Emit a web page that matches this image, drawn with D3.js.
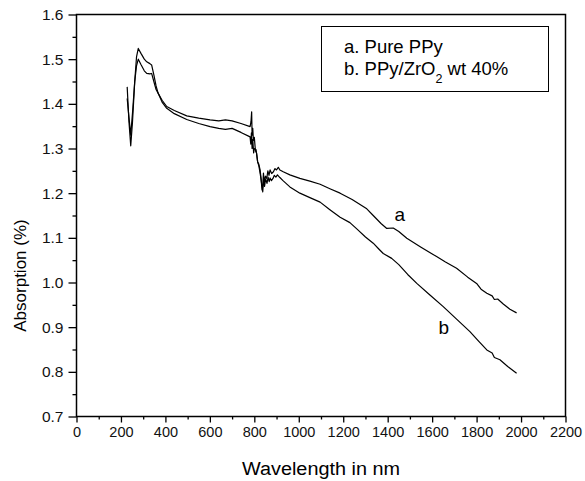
<!DOCTYPE html>
<html>
<head>
<meta charset="utf-8">
<script src="https://cdn.jsdelivr.net/npm/d3@7"></script>
<style>
  html, body { margin: 0; padding: 0; background: #fff; }
  svg { display: block; font-family: "Liberation Sans", Arial, sans-serif; }
</style>
</head>
<body>
<svg id="chart" width="585" height="481"></svg>
<script>
// ---- data ----
const xTicks = [0, 200, 400, 600, 800, 1000, 1200, 1400, 1600, 1800, 2000, 2200];
const yTicks = [0.7, 0.8, 0.9, 1.0, 1.1, 1.2, 1.3, 1.4, 1.5, 1.6];
const legendLabels = ["a. Pure PPy", "b. PPy/ZrO", "2", " wt 40%"];
const curveLabels = ["a", "b"];

// Curve a: Pure PPy  [wavelength nm, absorption]
const wavelengthA = [228,236,244,252,262,270,278,290,305,316,330,338,348,358,367,385,406,440,496,550,601,640,670,700,740,781,785,788,790,793,796,800,805,810,815,820,826,830,835,838,841,845,850,856,861,866,871,878,886,893,900,908,915,930,960,1005,1050,1096,1140,1186,1240,1306,1335,1370,1396,1425,1450,1486,1550,1620,1660,1710,1760,1800,1820,1846,1870,1880,1895,1920,1950,1980];
const absorptionA = [1.438,1.36,1.306,1.36,1.45,1.505,1.524,1.513,1.500,1.494,1.490,1.487,1.465,1.440,1.424,1.408,1.394,1.385,1.373,1.368,1.364,1.362,1.364,1.362,1.356,1.349,1.36,1.382,1.33,1.345,1.318,1.325,1.295,1.29,1.27,1.262,1.245,1.232,1.207,1.215,1.245,1.225,1.238,1.233,1.25,1.24,1.252,1.244,1.248,1.255,1.252,1.258,1.252,1.248,1.241,1.233,1.227,1.220,1.210,1.200,1.186,1.165,1.150,1.132,1.121,1.122,1.114,1.099,1.079,1.058,1.046,1.032,1.012,0.998,0.985,0.976,0.970,0.962,0.963,0.952,0.940,0.932];

// Curve b: PPy/ZrO2 wt 40%
const wavelengthB = [228,236,244,252,262,270,278,290,305,316,330,338,348,358,367,385,406,440,496,550,601,640,670,700,740,781,784,787,790,793,797,800,808,815,820,826,832,838,842,846,851,857,862,867,871,877,884,890,897,904,915,929,960,1005,1050,1096,1140,1186,1230,1261,1300,1335,1360,1380,1418,1450,1490,1531,1590,1650,1710,1770,1810,1846,1870,1880,1905,1940,1980];
const absorptionB = [1.412,1.37,1.330,1.38,1.45,1.485,1.500,1.488,1.474,1.468,1.467,1.468,1.450,1.432,1.424,1.404,1.390,1.378,1.365,1.356,1.349,1.345,1.343,1.345,1.336,1.326,1.31,1.335,1.30,1.32,1.29,1.30,1.297,1.27,1.265,1.252,1.225,1.203,1.235,1.215,1.232,1.222,1.236,1.226,1.234,1.228,1.233,1.24,1.236,1.241,1.235,1.228,1.214,1.200,1.190,1.180,1.163,1.146,1.134,1.120,1.102,1.088,1.075,1.065,1.054,1.040,1.018,0.998,0.972,0.946,0.918,0.890,0.868,0.849,0.842,0.832,0.827,0.812,0.797];

// ---- layout ----
const L = 76.5, R = 565.5, T = 14.5, B = 416.5;
const svg = d3.select("#chart");
const x = d3.scaleLinear().domain([0, 2200]).range([L, R]);
const y = d3.scaleLinear().domain([0.7, 1.6]).range([B, T]);

// minor ticks
const xMinor = d3.range(100, 2200, 200);
const yMinor = d3.range(0, 9).map(i => +(0.75 + i * 0.1).toFixed(2));

// bottom axis
const xAxis = d3.axisBottom(x).tickValues(xTicks).tickFormat(d3.format("d")).tickSize(6).tickPadding(4);
const gx = svg.append("g").attr("transform", `translate(0,${B})`).call(xAxis);
gx.select(".domain").remove();
gx.selectAll("line").attr("stroke", "#000").attr("stroke-width", 1.3);
gx.selectAll("text").attr("font-size", 14.5).attr("fill", "#111").attr("font-family", "Liberation Sans, Arial, sans-serif");
const gxm = svg.append("g").attr("transform", `translate(0,${B})`)
  .call(d3.axisBottom(x).tickValues(xMinor).tickSize(3).tickFormat(""));
gxm.select(".domain").remove();
gxm.selectAll("line").attr("stroke", "#000").attr("stroke-width", 1.3);

// left axis
const yAxis = d3.axisLeft(y).tickValues(yTicks).tickFormat(d3.format(".1f")).tickSize(8).tickPadding(5);
const gy = svg.append("g").attr("transform", `translate(${L},0)`).call(yAxis);
gy.select(".domain").remove();
gy.selectAll("line").attr("stroke", "#000").attr("stroke-width", 1.3);
gy.selectAll("text").attr("font-size", 15.5).attr("fill", "#111").attr("font-family", "Liberation Sans, Arial, sans-serif");
const gym = svg.append("g").attr("transform", `translate(${L},0)`)
  .call(d3.axisLeft(y).tickValues(yMinor).tickSize(4).tickFormat(""));
gym.select(".domain").remove();
gym.selectAll("line").attr("stroke", "#000").attr("stroke-width", 1.3);

// frame
svg.append("rect").attr("x", L).attr("y", T).attr("width", R - L).attr("height", B - T)
  .attr("fill", "none").attr("stroke", "#000").attr("stroke-width", 1.5);

// curves
const line = d3.line().x(d => x(d[0])).y(d => y(d[1]));
const dataA = wavelengthA.map((w, i) => [w, absorptionA[i]]);
const dataB = wavelengthB.map((w, i) => [w, absorptionB[i]]);
[dataA, dataB].forEach(d => {
  svg.append("path").datum(d).attr("d", line)
    .attr("fill", "none").attr("stroke", "#000").attr("stroke-width", 1.2)
    .attr("stroke-linejoin", "round");
});

// curve labels
svg.append("text").attr("x", x(1455)).attr("y", y(1.138)).attr("font-size", 19).attr("text-anchor", "middle").text(curveLabels[0]);
svg.append("text").attr("x", x(1652)).attr("y", y(0.885)).attr("font-size", 19).attr("text-anchor", "middle").text(curveLabels[1]);

// legend
svg.append("rect").attr("x", 321.5).attr("y", 26.5).attr("width", 227).attr("height", 65)
  .attr("fill", "#fff").attr("stroke", "#000").attr("stroke-width", 1);
svg.append("text").attr("x", 344).attr("y", 53).attr("font-size", 18.5).text(legendLabels[0]);
const t2 = svg.append("text").attr("x", 344).attr("y", 75).attr("font-size", 18.5);
t2.append("tspan").text(legendLabels[1]);
t2.append("tspan").attr("font-size", 12.5).attr("dy", 8).text(legendLabels[2]);
t2.append("tspan").attr("dy", -8).text(legendLabels[3]);

// axis titles
svg.append("text").attr("x", 321).attr("y", 475).attr("text-anchor", "middle")
  .attr("font-size", 18).attr("textLength", 158).attr("lengthAdjust", "spacingAndGlyphs").text("Wavelength in nm");
svg.append("text").attr("transform", `translate(25.5,${(B + T) / 2 + 60}) rotate(-90)`)
  .attr("text-anchor", "middle").attr("font-size", 17).text("Absorption (%)");
</script>
</body>
</html>
